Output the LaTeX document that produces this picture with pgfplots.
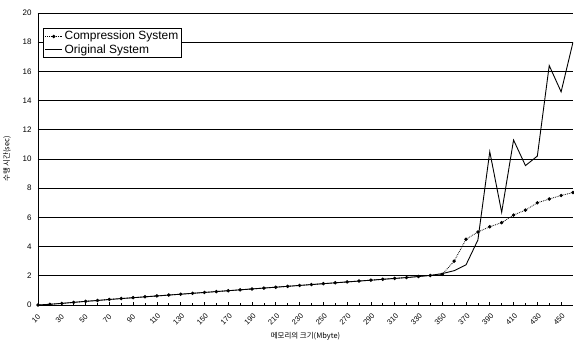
\documentclass[border=0pt]{standalone}
\usepackage{fontspec}
\setmainfont{Liberation Sans}
\newfontfamily\kr{Noto Sans CJK KR}
\usepackage{pgfplots}
\pgfplotsset{compat=1.18}
\begin{document}
\begin{tikzpicture}
\begin{axis}[
  scale only axis,
  width=535bp, height=292bp,
  xmin=10, xmax=460, ymin=0, ymax=20,
  axis x line*=bottom, axis y line*=left,
  axis line style={line width=1pt},
  xtick={10,30,...,450},
  minor x tick num=1,
  ytick={0,2,...,20},
  ymajorgrids, major grid style={black, line width=0.9pt},
  tick style={black, line width=0.7pt},
  major tick length=3pt, minor tick length=2pt,
  /pgf/number format/assume math mode=true,
  tick label style={font=\fontsize{8}{9}\selectfont},
  xticklabel style={anchor=center, inner sep=0pt, xshift=-2pt, rotate=45, font=\fontsize{7.5}{8}\selectfont},
  xticklabel shift=14pt,
  yticklabel shift=3pt,
  xlabel={\kr 메모리의 크기(Mbyte)},
  ylabel={\kr 수행 시간(sec)},
  label style={font=\fontsize{7.5}{8}\selectfont},
  xlabel style={at={(axis description cs:0.5,0)}, anchor=center, yshift=-31pt},
  ylabel style={yshift=5pt},
  legend style={at={(0.01,0.949)}, anchor=north west, draw=black, line width=0.9pt,
    font=\fontsize{12}{12}\selectfont, inner xsep=1pt, inner ysep=1pt, row sep=-1pt,
    cells={anchor=west}},
  legend cell align=left,
]
\addplot[black, densely dotted, line width=0.8pt, mark=*, mark size=1.3pt, mark options={solid}] coordinates {
(10,0.00)(20,0.05)(30,0.11)(40,0.18)(50,0.25)(60,0.31)(70,0.38)(80,0.44)(90,0.50)(100,0.56)
(110,0.62)(120,0.68)(130,0.74)(140,0.80)(150,0.86)(160,0.92)(170,0.98)(180,1.04)(190,1.10)(200,1.16)
(210,1.22)(220,1.28)(230,1.34)(240,1.40)(250,1.46)(260,1.52)(270,1.58)(280,1.64)(290,1.70)(300,1.76)
(310,1.82)(320,1.88)(330,1.95)(340,2.02)(350,2.10)(360,3.0)(370,4.5)(380,5.0)(390,5.36)(400,5.64)
(410,6.16)(420,6.5)(430,7.0)(440,7.26)(450,7.5)(460,7.7)};
\addlegendentry{Compression System}
\addplot[black, line width=0.9pt] coordinates {
(10,0.00)(20,0.05)(30,0.11)(40,0.18)(50,0.25)(60,0.31)(70,0.38)(80,0.44)(90,0.50)(100,0.56)
(110,0.62)(120,0.68)(130,0.74)(140,0.80)(150,0.86)(160,0.92)(170,0.98)(180,1.04)(190,1.10)(200,1.16)
(210,1.22)(220,1.28)(230,1.34)(240,1.40)(250,1.46)(260,1.52)(270,1.58)(280,1.64)(290,1.70)(300,1.76)
(310,1.82)(320,1.88)(330,1.95)(340,2.03)(350,2.15)(360,2.35)(370,2.75)(380,4.45)(390,10.5)(400,6.35)
(410,11.3)(420,9.55)(430,10.2)(440,16.4)(450,14.6)(460,18.0)};
\addlegendentry{Original System}
\end{axis}
\pgfresetboundingbox
\path[use as bounding box] (-38bp,-35bp) rectangle (536bp,305bp);
\end{tikzpicture}
\end{document}
